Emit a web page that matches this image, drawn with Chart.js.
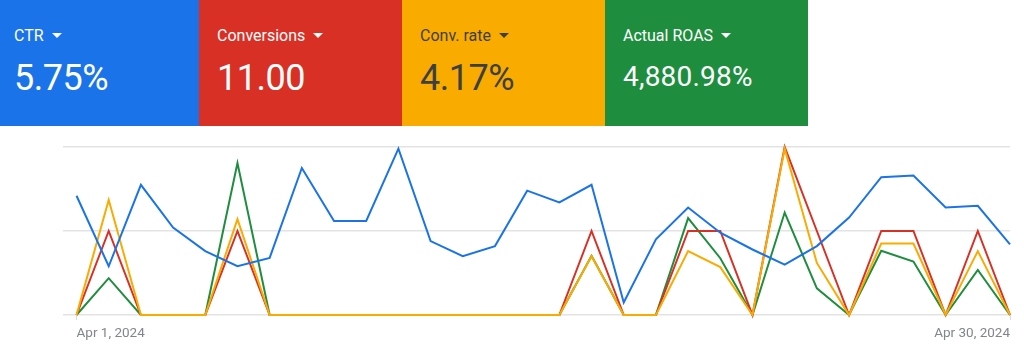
<!DOCTYPE html>
<html>
<head>
<meta charset="utf-8">
<script src="https://cdn.jsdelivr.net/npm/chart.js@4.4.1/dist/chart.umd.min.js"></script>
<style>
  html, body { margin:0; padding:0; background:#fff; width:1024px; height:355px; overflow:hidden; font-family: Roboto, Arial, sans-serif; }
  #wrap { position:absolute; left:0; top:0; width:1024px; height:355px; }
  .tile { position:absolute; top:0; height:126px; width:203px; }
  .lbl { position:absolute; left:18px; top:28px; font-size:16px; line-height:16px; white-space:nowrap; }
  .val { position:absolute; left:18px; top:60px; font-size:36px; line-height:36px; white-space:nowrap; letter-spacing:-0.5px; }
  .val.small { top:63px; font-size:28px; line-height:28px; letter-spacing:0.2px; }
  .tri { display:inline-block; width:0; height:0; border-left:5px solid transparent; border-right:5px solid transparent; border-top:5px solid currentColor; margin-left:8px; vertical-align:3px; }
</style>
</head>
<body>
<div id="wrap"><canvas id="c" width="1024" height="355"></canvas></div>
<div id="tiles"></div>
<script>
// ---- data ----
const categories = ['Apr 1','Apr 2','Apr 3','Apr 4','Apr 5','Apr 6','Apr 7','Apr 8','Apr 9','Apr 10',
  'Apr 11','Apr 12','Apr 13','Apr 14','Apr 15','Apr 16','Apr 17','Apr 18','Apr 19','Apr 20',
  'Apr 21','Apr 22','Apr 23','Apr 24','Apr 25','Apr 26','Apr 27','Apr 28','Apr 29','Apr 30'];
const tickLabels = ['Apr 1, 2024', 'Apr 30, 2024'];
const ctr = [7.1, 2.9, 7.75, 5.2, 3.8, 2.9, 3.4, 8.75, 5.6, 5.6, 9.9, 4.4, 3.5, 4.1, 7.4, 6.7, 7.75, 0.74, 4.5, 6.4, 4.9, 3.9, 3.0, 4.1, 5.8, 8.2, 8.3, 6.4, 6.5, 4.2];
const conversions = [0, 1, 0, 0, 0, 1, 0, 0, 0, 0, 0, 0, 0, 0, 0, 0, 1, 0, 0, 1, 1, 0, 2, 1, 0, 1, 1, 0, 1, 0];
const convRate = [0, 13.7, 0, 0, 0, 11.4, 0, 0, 0, 0, 0, 0, 0, 0, 0, 0, 7.0, 0, 0, 7.6, 5.7, 0, 19.8, 6.2, 0, 8.5, 8.5, 0, 7.6, 0];
const roas = [0, 4380, 0, 0, 0, 18100, 0, 0, 0, 0, 0, 0, 0, 0, 0, 0, 7040, 0, 0, 11540, 6760, 0, 12200, 3180, 0, 7640, 6360, 0, 5360, 0];
const tileNames = ['CTR', 'Conversions', 'Conv. rate', 'Actual ROAS'];
const tileValues = ['5.75%', '11.00', '4.17%', '4,880.98%'];

// ---- tiles ----
const tileBg = ['#1a73e8', '#d93025', '#f9ab00', '#1e8e3e'];
const tileFg = ['#ffffff', '#ffffff', '#3c4043', '#ffffff'];
const tileLeft = [-4, 199, 402, 605];
const tilesEl = document.getElementById('tiles');
tileNames.forEach((n, i) => {
  const t = document.createElement('div');
  t.className = 'tile';
  t.style.left = tileLeft[i] + 'px';
  t.style.background = tileBg[i];
  t.style.color = tileFg[i];
  const cls = tileValues[i].length > 7 ? 'val small' : 'val';
  t.innerHTML = '<div class="lbl">' + n + '<span class="tri"></span></div><div class="' + cls + '">' + tileValues[i] + '</div>';
  tilesEl.appendChild(t);
});

// ---- chart ----
const pts = arr => arr.map((v, i) => ({ x: i, y: v }));
const ds = (label, data, color, axis, order) => ({
  label, data: pts(data), borderColor: color, backgroundColor: color,
  borderWidth: 2, pointRadius: 0, tension: 0, yAxisID: axis, order, clip: false
});
new Chart(document.getElementById('c'), {
  type: 'line',
  data: {
    datasets: [
      ds('CTR', ctr, '#1a73e8', 'y', 0),
      ds('Conv. rate', convRate, '#f9ab00', 'yRate', 1),
      ds('Conversions', conversions, '#d93025', 'yConv', 2),
      ds('Actual ROAS', roas, '#1e8e3e', 'yRoas', 3)
    ]
  },
  options: {
    responsive: false, animation: false, devicePixelRatio: 1,
    layout: { padding: { top: 147, left: 63, right: 14, bottom: 0 } },
    plugins: { legend: { display: false }, tooltip: { enabled: false } },
    scales: {
      x: {
        type: 'linear', min: -0.42, max: 29,
        afterBuildTicks: s => { s.ticks = [{ value: 0 }, { value: 29 }]; },
        afterFit: s => { s.height = 40; },
        border: { display: false },
        grid: { drawOnChartArea: false, drawTicks: true, tickLength: 5, color: '#dadce0', lineWidth: 1 },
        ticks: {
          align: 'inner', maxRotation: 0, autoSkip: false, padding: 6,
          color: '#80868b', font: { family: 'Roboto', size: 13.5 },
          callback: v => v === 0 ? tickLabels[0] : tickLabels[1]
        }
      },
      y: {
        min: 0, max: 10,
        afterFit: s => { s.width = 0; },
        border: { display: false },
        grid: { color: '#e3e3e3', lineWidth: 1.5, drawTicks: false },
        ticks: { display: false, stepSize: 5 }
      },
      yConv: { display: false, min: 0, max: 2 },
      yRate: { display: false, min: 0, max: 20 },
      yRoas: { display: false, min: 0, max: 20000 }
    }
  }
});
</script>
</body>
</html>
